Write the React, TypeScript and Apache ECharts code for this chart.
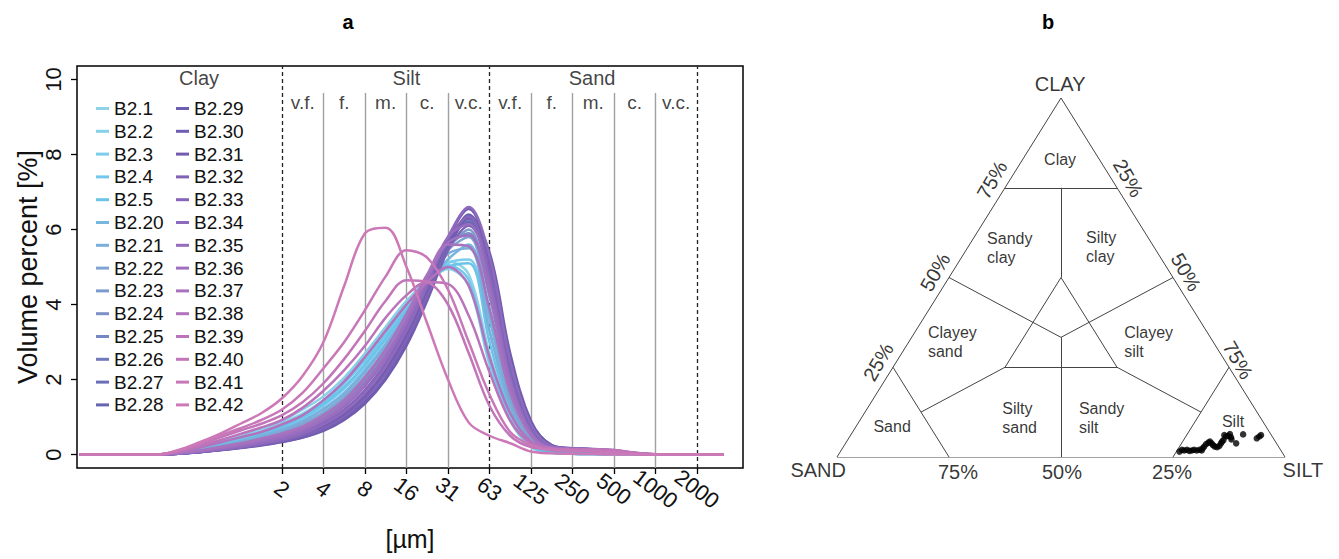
import React, { useEffect, useRef } from 'react';
import * as echarts from 'echarts';

const FONT = "'Liberation Sans', Arial, Helvetica, sans-serif";

// ---------- Panel a: grain-size distributions ----------
// grain size grid (µm)
const SIZES_UM = [0.068, 0.25, 0.354, 0.5, 0.707, 1, 1.414, 2, 2.83, 4, 5.66, 8, 11.3, 16, 22.6, 32, 45.3, 64, 90.5, 128, 181, 256, 362, 512, 724, 1024, 2048, 3200];

const X_TICK_UM = [2, 4, 8, 16, 32, 64, 128, 256, 512, 1024, 2048];
const X_TICK_LABELS = ['2', '4', '8', '16', '31', '63', '125', '250', '500', '1000', '2000'];
const Y_TICKS = [0, 2, 4, 6, 8, 10];
const MAJOR_BOUNDS_UM = [2, 64, 2048];
const MINOR_BOUNDS_UM = [4, 8, 16, 32, 128, 256, 512, 1024];
const CLASS_HEADERS = ['Clay', 'Silt', 'Sand'];
const CLASS_HEADER_UM = [0.5, 16, 355];
const SUB_LABELS = ['v.f.', 'f.', 'm.', 'c.', 'v.c.', 'v.f.', 'f.', 'm.', 'c.', 'v.c.'];
const SUB_LABEL_UM = [2.83, 5.66, 11.3, 22.6, 45.3, 90.5, 181, 362, 724, 1448];

const NAMES = ['B2.1', 'B2.2', 'B2.3', 'B2.4', 'B2.5', 'B2.20', 'B2.21', 'B2.22', 'B2.23', 'B2.24', 'B2.25', 'B2.26', 'B2.27', 'B2.28',
  'B2.29', 'B2.30', 'B2.31', 'B2.32', 'B2.33', 'B2.34', 'B2.35', 'B2.36', 'B2.37', 'B2.38', 'B2.39', 'B2.40', 'B2.41', 'B2.42'];

const COLORS = ['#8fd3e8', '#86d0ea', '#7ccdec', '#72c8ec', '#6cc3ea', '#74b8e2', '#7aaedb', '#7fa4d4', '#7d9acd', '#7a90c7',
  '#7686c2', '#6f7abd', '#6a6fb7', '#6665b2', '#6a5fb0', '#705cb0', '#755bb0', '#7f62b6', '#8766ba', '#8e6abe', '#966cbf',
  '#9f6fc0', '#a872bf', '#b273bd', '#bb74bb', '#c275b9', '#c877b8', '#cd79b7'];

const B2_1 = [0, 0, 0.05, 0.15, 0.3, 0.45, 0.62, 0.85, 1.1, 1.45, 1.95, 2.6, 3.3, 4.05, 4.7, 5.15, 4.8, 2.7, 1.05, 0.25, 0.05, 0.02, 0.01, 0, 0, 0, 0, 0];
const B2_2 = [0, 0, 0.06, 0.17, 0.33, 0.5, 0.68, 0.9, 1.2, 1.55, 2.05, 2.7, 3.4, 4.1, 4.6, 4.95, 4.5, 2.4, 0.9, 0.2, 0.04, 0.02, 0.01, 0, 0, 0, 0, 0];
const B2_3 = [0, 0, 0.04, 0.12, 0.25, 0.38, 0.52, 0.7, 0.95, 1.3, 1.75, 2.35, 3.05, 3.8, 4.5, 5.1, 5.2, 3.3, 1.3, 0.3, 0.06, 0.02, 0.01, 0, 0, 0, 0, 0];
const B2_4 = [0, 0, 0.05, 0.14, 0.28, 0.42, 0.58, 0.8, 1.05, 1.4, 1.9, 2.5, 3.2, 3.95, 4.65, 5.05, 4.65, 2.5, 0.95, 0.22, 0.05, 0.02, 0.01, 0, 0, 0, 0, 0];
const B2_5 = [0, 0, 0.04, 0.13, 0.26, 0.4, 0.55, 0.75, 1.0, 1.35, 1.8, 2.4, 3.1, 3.85, 4.55, 5.0, 5.1, 3.0, 1.15, 0.28, 0.05, 0.02, 0.01, 0, 0, 0, 0, 0];
const B2_20 = [0, 0, 0.04, 0.12, 0.24, 0.36, 0.5, 0.68, 0.9, 1.22, 1.65, 2.25, 2.95, 3.75, 4.5, 5.2, 5.6, 3.6, 1.4, 0.35, 0.08, 0.03, 0.02, 0.01, 0, 0, 0, 0];
const B2_21 = [0, 0, 0.04, 0.12, 0.23, 0.35, 0.48, 0.65, 0.88, 1.2, 1.6, 2.2, 2.9, 3.7, 4.6, 5.35, 5.5, 3.3, 1.3, 0.3, 0.07, 0.03, 0.02, 0.01, 0, 0, 0, 0];
const B2_22 = [0, 0, 0.03, 0.1, 0.2, 0.32, 0.44, 0.6, 0.82, 1.12, 1.52, 2.1, 2.8, 3.65, 4.6, 5.45, 5.8, 3.8, 1.5, 0.4, 0.1, 0.05, 0.03, 0.02, 0, 0, 0, 0];
const B2_23 = [0, 0, 0.03, 0.09, 0.18, 0.28, 0.4, 0.55, 0.75, 1.05, 1.45, 2.0, 2.7, 3.55, 4.55, 5.5, 6.0, 4.2, 1.8, 0.5, 0.12, 0.08, 0.06, 0.04, 0.01, 0, 0, 0];
const B2_24 = [0, 0, 0.03, 0.09, 0.18, 0.27, 0.38, 0.52, 0.72, 1.0, 1.4, 1.95, 2.65, 3.5, 4.5, 5.55, 5.9, 4.4, 1.9, 0.55, 0.15, 0.1, 0.08, 0.05, 0.02, 0, 0, 0];
const B2_25 = [0, 0, 0.02, 0.07, 0.14, 0.22, 0.3, 0.42, 0.58, 0.82, 1.15, 1.65, 2.35, 3.25, 4.4, 5.6, 6.25, 4.9, 2.2, 0.65, 0.18, 0.12, 0.1, 0.08, 0.03, 0, 0, 0];
const B2_26 = [0, 0, 0.02, 0.07, 0.13, 0.2, 0.28, 0.38, 0.52, 0.74, 1.05, 1.52, 2.2, 3.1, 4.25, 5.5, 6.3, 5.1, 2.4, 0.75, 0.2, 0.14, 0.12, 0.1, 0.04, 0, 0, 0];
const B2_27 = [0, 0, 0.02, 0.06, 0.12, 0.19, 0.27, 0.37, 0.5, 0.72, 1.02, 1.5, 2.18, 3.1, 4.3, 5.6, 6.35, 5.0, 2.3, 0.7, 0.2, 0.15, 0.13, 0.1, 0.04, 0, 0, 0];
const B2_28 = [0, 0, 0.02, 0.07, 0.14, 0.21, 0.3, 0.42, 0.58, 0.82, 1.18, 1.7, 2.4, 3.35, 4.5, 5.7, 6.2, 4.7, 2.1, 0.6, 0.18, 0.14, 0.12, 0.09, 0.03, 0, 0, 0];
const B2_29 = [0, 0, 0.02, 0.06, 0.12, 0.18, 0.25, 0.34, 0.46, 0.65, 0.95, 1.4, 2.05, 2.95, 4.15, 5.5, 6.4, 5.3, 2.6, 0.85, 0.25, 0.16, 0.14, 0.1, 0.04, 0, 0, 0];
const B2_30 = [0, 0, 0.02, 0.06, 0.11, 0.17, 0.24, 0.33, 0.45, 0.63, 0.92, 1.36, 2.0, 2.9, 4.1, 5.45, 6.3, 5.4, 2.7, 0.9, 0.25, 0.17, 0.15, 0.11, 0.04, 0, 0, 0];
const B2_31 = [0, 0, 0.02, 0.07, 0.13, 0.2, 0.28, 0.39, 0.54, 0.76, 1.08, 1.56, 2.25, 3.2, 4.4, 5.75, 6.55, 5.2, 2.5, 0.8, 0.22, 0.16, 0.14, 0.1, 0.03, 0, 0, 0];
const B2_32 = [0, 0, 0.02, 0.06, 0.12, 0.18, 0.26, 0.36, 0.5, 0.7, 1.0, 1.48, 2.15, 3.05, 4.2, 5.45, 6.1, 5.0, 2.45, 0.8, 0.22, 0.15, 0.13, 0.1, 0.03, 0, 0, 0];
const B2_33 = [0, 0, 0.03, 0.08, 0.15, 0.23, 0.32, 0.44, 0.6, 0.85, 1.2, 1.72, 2.45, 3.4, 4.55, 5.75, 6.35, 4.8, 2.1, 0.6, 0.17, 0.13, 0.11, 0.08, 0.02, 0, 0, 0];
const B2_34 = [0, 0, 0.02, 0.07, 0.13, 0.2, 0.29, 0.4, 0.56, 0.8, 1.14, 1.64, 2.35, 3.3, 4.5, 5.8, 6.6, 5.3, 2.5, 0.8, 0.22, 0.16, 0.14, 0.1, 0.03, 0, 0, 0];
const B2_35 = [0, 0, 0.03, 0.08, 0.15, 0.23, 0.33, 0.46, 0.63, 0.9, 1.28, 1.82, 2.55, 3.5, 4.65, 5.8, 6.15, 4.6, 2.0, 0.6, 0.17, 0.13, 0.11, 0.08, 0.02, 0, 0, 0];
const B2_36 = [0, 0, 0.03, 0.09, 0.17, 0.26, 0.37, 0.5, 0.68, 0.95, 1.35, 1.9, 2.65, 3.6, 4.7, 5.65, 5.85, 4.3, 1.85, 0.55, 0.16, 0.12, 0.1, 0.07, 0.02, 0, 0, 0];
const B2_37 = [0, 0, 0.04, 0.11, 0.2, 0.3, 0.42, 0.56, 0.75, 1.05, 1.45, 2.05, 2.8, 3.75, 4.8, 5.6, 5.55, 3.9, 1.65, 0.5, 0.15, 0.12, 0.1, 0.07, 0.02, 0, 0, 0];
const B2_38 = [0, 0, 0.06, 0.18, 0.32, 0.46, 0.6, 0.8, 1.05, 1.45, 1.95, 2.6, 3.3, 4.0, 4.6, 5.0, 4.5, 2.6, 1.1, 0.35, 0.18, 0.15, 0.14, 0.12, 0.05, 0.01, 0, 0];
const B2_39 = [0, 0, 0.08, 0.22, 0.38, 0.55, 0.72, 0.92, 1.25, 1.7, 2.25, 2.9, 3.65, 4.25, 4.6, 4.55, 3.7, 2.2, 0.9, 0.3, 0.15, 0.14, 0.13, 0.12, 0.05, 0.01, 0, 0];
const B2_40 = [0, 0, 0.1, 0.26, 0.45, 0.64, 0.82, 1.05, 1.4, 1.9, 2.55, 3.3, 4.1, 4.65, 4.6, 4.0, 2.7, 1.3, 0.5, 0.2, 0.15, 0.13, 0.12, 0.1, 0.04, 0.01, 0, 0];
const B2_41 = [0, 0, 0.1, 0.28, 0.5, 0.7, 0.92, 1.2, 1.65, 2.3, 3.0, 3.85, 4.75, 5.45, 5.25, 4.4, 3.0, 1.6, 0.6, 0.25, 0.12, 0.1, 0.08, 0.06, 0.02, 0, 0, 0];
const B2_42 = [0, 0, 0.12, 0.32, 0.55, 0.82, 1.1, 1.5, 2.1, 3.0, 4.5, 5.9, 6.05, 5.0, 3.5, 2.0, 0.85, 0.5, 0.3, 0.08, 0.03, 0.02, 0.01, 0, 0, 0, 0, 0];

const CURVES = [B2_1, B2_2, B2_3, B2_4, B2_5, B2_20, B2_21, B2_22, B2_23, B2_24, B2_25, B2_26, B2_27, B2_28,
  B2_29, B2_30, B2_31, B2_32, B2_33, B2_34, B2_35, B2_36, B2_37, B2_38, B2_39, B2_40, B2_41, B2_42];

// ---------- Panel b: ternary diagram (percent) ----------
const SAMPLE_CLAY = [1.5, 2.0, 1.8, 2.0, 1.7, 1.8, 2.0, 1.8, 2.0, 1.8, 2.4, 2.9, 3.6, 4.0, 4.3, 3.8, 3.3, 2.9, 2.7, 3.1, 3.8, 4.3, 4.7, 6.1, 5.7, 5.9, 6.4, 5.5, 4.9, 3.8, 6.3, 5.2, 5.7, 6.1];
const SAMPLE_SILT = [75.7, 76.0, 76.6, 77.1, 77.8, 78.3, 78.7, 79.4, 79.9, 80.5, 80.4, 80.5, 80.6, 80.9, 81.1, 81.7, 82.3, 82.9, 83.5, 83.8, 83.8, 83.8, 83.9, 83.4, 84.0, 84.4, 84.5, 85.2, 85.6, 87.2, 87.5, 91.1, 91.4, 91.6];

// [clay, silt, sand] end points of every boundary
const SEGMENTS = [
  [[0, 0, 100], [0, 100, 0]],
  [[0, 100, 0], [100, 0, 0]],
  [[100, 0, 0], [0, 0, 100]],
  [[75, 0, 25], [75, 25, 0]],
  [[75, 12.5, 12.5], [50, 25, 25]],
  [[50, 25, 25], [25, 25, 50]],
  [[50, 25, 25], [25, 50, 25]],
  [[25, 25, 50], [25, 50, 25]],
  [[50, 0, 50], [33.33, 33.33, 33.33]],
  [[50, 50, 0], [33.33, 33.33, 33.33]],
  [[33.33, 33.33, 33.33], [0, 50, 50]],
  [[25, 25, 50], [12.5, 12.5, 75]],
  [[25, 50, 25], [12.5, 75, 12.5]],
  [[25, 0, 75], [0, 25, 75]],
  [[25, 75, 0], [0, 75, 25]],
];

const REGION_TEXT = ['Clay', 'Sandy\nclay', 'Silty\nclay', 'Clayey\nsand', 'Clayey\nsilt', 'Sand', 'Silty\nsand', 'Sandy\nsilt', 'Silt'];

const tern = (clay: number, silt: number) => [silt / 100 + clay / 200, clay / 100];

function buildOption() {
  const L = (um: number) => Math.log2(um);
  const Y_MIN = -0.36, Y_MAX = 10.36;
  const series: any[] = [];

  // annotation series with class boundaries
  const boundaryLines: any[] = [];
  MAJOR_BOUNDS_UM.forEach((u) => boundaryLines.push([
    { coord: [L(u), Y_MIN], lineStyle: { color: '#222', width: 1.3, type: [4, 3] } },
    { coord: [L(u), Y_MAX] },
  ]));
  MINOR_BOUNDS_UM.forEach((u) => boundaryLines.push([
    { coord: [L(u), Y_MIN], lineStyle: { color: '#a0a0a0', width: 1.4, type: 'solid' } },
    { coord: [L(u), 9.64] },
  ]));
  series.push({
    type: 'scatter', xAxisIndex: 0, yAxisIndex: 0, symbolSize: 0, silent: true, z: 1,
    data: [
      ...CLASS_HEADERS.map((t, i) => ({ name: t, value: [L(CLASS_HEADER_UM[i]), 10.04], label: { fontSize: 20 } })),
      ...SUB_LABELS.map((t, i) => ({ name: t, value: [L(SUB_LABEL_UM[i]), 9.4], label: { fontSize: 19 } })),
    ],
    label: { show: true, position: 'inside', formatter: '{b}', color: '#111', fontFamily: FONT },
    markLine: { silent: true, symbol: ['none', 'none'], label: { show: false }, data: boundaryLines, z: 1 },
  });

  NAMES.forEach((name, i) => {
    series.push({
      type: 'line', name, xAxisIndex: 0, yAxisIndex: 0, z: 3,
      data: SIZES_UM.map((s, j) => [L(s), CURVES[i][j]]),
      smooth: 0.35, symbol: 'none',
      lineStyle: { width: 2.5, color: COLORS[i] },
      itemStyle: { color: COLORS[i] },
    });
  });

  // ternary boundaries
  series.push({
    type: 'lines', coordinateSystem: 'cartesian2d', xAxisIndex: 1, yAxisIndex: 1, silent: true,
    data: SEGMENTS.map((s) => ({ coords: [tern(s[0][0], s[0][1]), tern(s[1][0], s[1][1])] })),
    lineStyle: { color: '#444', width: 1, opacity: 1 },
  });
  // samples
  series.push({
    type: 'scatter', xAxisIndex: 1, yAxisIndex: 1, symbolSize: 6.5, silent: true,
    data: SAMPLE_CLAY.map((c, i) => tern(c, SAMPLE_SILT[i])),
    itemStyle: { color: '#000' },
  });
  // ternary texts
  const regionPos = [[0.498, 0.83, 'center'], [0.335, 0.582, 'left'], [0.556, 0.585, 'left'], [0.203, 0.32, 'left'],
    [0.641, 0.32, 'left'], [0.123, 0.086, 'center'], [0.369, 0.11, 'left'], [0.54, 0.11, 'left'], [0.884, 0.10, 'center']];
  const texts: any[] = REGION_TEXT.map((t, i) => ({
    name: t, value: [regionPos[i][0], regionPos[i][1]],
    label: { fontSize: 16, align: regionPos[i][2], lineHeight: 19 },
  }));
  const extra = [
    ['CLAY', 0.498, 1.039, 0, 20], ['SAND', -0.042, -0.036, 0, 20], ['SILT', 1.04, -0.036, 0, 20],
    ['75%', 0.27, -0.042, 0, 20], ['50%', 0.502, -0.042, 0, 20], ['25%', 0.748, -0.042, 0, 20],
    ['75%', 0.346, 0.772, 60, 20], ['50%', 0.219, 0.515, 60, 20], ['25%', 0.092, 0.265, 60, 20],
    ['25%', 0.65, 0.777, -60, 20], ['50%', 0.779, 0.515, -60, 20], ['75%', 0.895, 0.27, -60, 20],
  ];
  extra.forEach((e) => texts.push({ name: e[0], value: [e[1], e[2]], label: { fontSize: e[4], rotate: e[3], align: 'center' } }));
  series.push({
    type: 'scatter', xAxisIndex: 1, yAxisIndex: 1, symbolSize: 0, silent: true, clip: false,
    data: texts,
    label: { show: true, position: 'inside', formatter: '{b}', color: '#000', fontFamily: FONT, verticalAlign: 'middle' },
  });

  const legendCommon = {
    orient: 'vertical', itemGap: 3.8, itemWidth: 13, itemHeight: 3, icon: 'rect', padding: 0,
    selectedMode: false, textStyle: { fontSize: 19, lineHeight: 18, color: '#111', fontFamily: FONT },
  };

  return {
    animation: false,
    backgroundColor: '#fff',
    textStyle: { fontFamily: FONT },
    legend: [
      { ...legendCommon, data: NAMES.slice(0, 14), left: 96, top: 99 },
      { ...legendCommon, data: NAMES.slice(14), left: 176, top: 99 },
    ],
    grid: [
      { left: 77, top: 66, width: 666, height: 402, show: true, borderColor: '#000', borderWidth: 1.5, backgroundColor: 'transparent' },
      { left: 837, top: 98, width: 448, height: 359, show: false },
    ],
    xAxis: [
      {
        gridIndex: 0, type: 'value', min: -3.94, max: 12.11, position: 'bottom',
        name: '[µm]', nameLocation: 'middle', nameGap: 58, nameTextStyle: { fontSize: 25, color: '#111' },
        axisLine: { show: false, onZero: false }, splitLine: { show: false },
        axisTick: { show: true, customValues: X_TICK_UM.map(L), length: 6, lineStyle: { color: '#000', width: 1.3 } },
        axisLabel: {
          show: true, customValues: X_TICK_UM.map(L), rotate: -37, align: 'center', verticalAlign: 'middle', margin: 21,
          fontSize: 22, color: '#111',
          formatter: (v: number) => {
            const idx = X_TICK_UM.findIndex((u) => Math.abs(L(u) - v) < 1e-6);
            return idx >= 0 ? X_TICK_LABELS[idx] : '';
          },
        },
      },
      { gridIndex: 1, type: 'value', min: 0, max: 1, show: false },
    ],
    yAxis: [
      {
        gridIndex: 0, type: 'value', min: Y_MIN, max: Y_MAX, position: 'left',
        name: 'Volume percent [%]', nameLocation: 'middle', nameGap: 33, nameTextStyle: { fontSize: 27, color: '#111' },
        axisLine: { show: false, onZero: false }, splitLine: { show: false },
        axisTick: { show: true, customValues: Y_TICKS, length: 6, lineStyle: { color: '#000', width: 1.3 } },
        axisLabel: { show: true, customValues: Y_TICKS, rotate: 90, align: 'center', verticalAlign: 'bottom', margin: 13, fontSize: 22, color: '#111' },
      },
      { gridIndex: 1, type: 'value', min: 0, max: 1, show: false },
    ],
    graphic: [
      { type: 'text', x: 348, y: 22, style: { text: 'a', fontSize: 20, fontWeight: 'bold', fontFamily: FONT, align: 'center', verticalAlign: 'middle', fill: '#000' } },
      { type: 'text', x: 1048, y: 22, style: { text: 'b', fontSize: 20, fontWeight: 'bold', fontFamily: FONT, align: 'center', verticalAlign: 'middle', fill: '#000' } },
    ],
    series,
  };
}

export default function App() {
  const ref = useRef<HTMLDivElement>(null);
  useEffect(() => {
    const chart = echarts.init(ref.current as HTMLDivElement, undefined, { renderer: 'svg' });
    chart.setOption(buildOption() as any);
    return () => chart.dispose();
  }, []);
  return <div ref={ref} style={{ position: 'absolute', left: 0, top: 0, width: 1339, height: 559, background: '#fff' }} />;
}
